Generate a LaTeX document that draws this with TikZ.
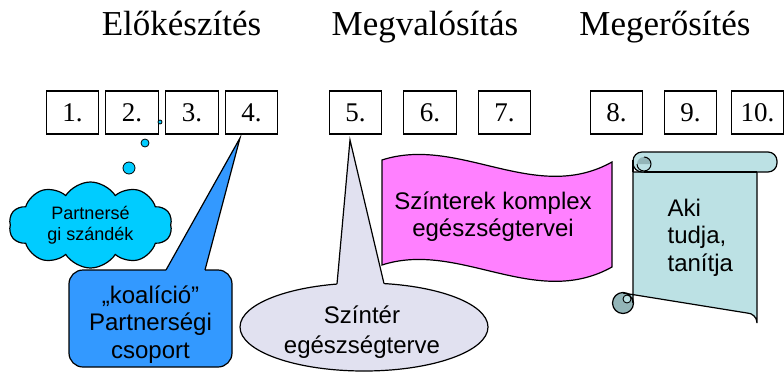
\documentclass[tikz,border=0pt]{standalone}
\usepackage{fontspec}
\setmainfont{Liberation Serif}
\newfontfamily\arialfont{Liberation Sans}
\usetikzlibrary{shapes.symbols,shapes.geometric}
\definecolor{cloudc}{HTML}{00CCFF}
\definecolor{bluec}{HTML}{3399FF}
\definecolor{ellc}{HTML}{E1E1F0}
\definecolor{wavec}{HTML}{FF80FF}
\definecolor{scrollc}{HTML}{BCE1E4}
\definecolor{scrolld}{HTML}{93B5B8}
\begin{document}
\begin{tikzpicture}[x=1pt,y=-1pt,line width=1.2pt,
  numbox/.style={draw,minimum width=52.5pt,minimum height=43pt,inner sep=0pt,font=\fontsize{27}{27}\selectfont},
  phase/.style={anchor=base,inner sep=0pt,font=\fontsize{35}{35}\selectfont},
  sanstext/.style={align=center,inner sep=0pt,font=\arialfont\fontsize{24}{27.5}\selectfont},
  bubble/.style={circle,draw,fill=cloudc,line width=0.8pt,inner sep=0pt}]
\useasboundingbox (0,0) rectangle (784,372);

% phase titles
\node[phase] (p1) at (181.5,35) {Előkészítés};
\node[phase] (p2) at (425,35) {Megvalósítás};
\node[phase] (p3) at (665,35) {Megerősítés};

% numbered boxes
\node[numbox] (b1) at (72.5,112.5) {1.};
\node[numbox] (b2) at (132,112.5) {2.};
\node[numbox] (b3) at (192,112.5) {3.};
\node[numbox] (b4) at (251.5,112.5) {4.};
\node[numbox] (b5) at (355.5,112.5) {5.};
\node[numbox] (b6) at (430,112.5) {6.};
\node[numbox] (b7) at (504.5,112.5) {7.};
\node[numbox] (b8) at (616.5,112.5) {8.};
\node[numbox] (b9) at (690.5,112.5) {9.};
\node[numbox] (b10) at (757.5,112.5) {10.};

% thought cloud
\node[bubble,minimum size=4pt] (t1) at (160,122) {};
\node[bubble,minimum size=8pt] (t2) at (145,143) {};
\node[bubble,minimum size=12pt] (t3) at (129,168) {};
\node[cloud,draw,fill=cloudc,cloud puffs=10,cloud puff arc=115,cloud ignores aspect,
      minimum width=163pt,minimum height=86pt,inner sep=0pt,align=center,
      font=\arialfont\fontsize{18}{21}\selectfont] (cloud) at (90.5,225) {Partnersé\\gi szándék};

% blue callout to box 4
\coordinate (tip4) at (240,138);
\filldraw[fill=bluec,rounded corners=14pt] (69,270) rectangle (232,367);
\fill[bluec] (166.5,272.5) -- (166,270) -- (tip4) -- (205,270) -- (204.5,272.5) -- cycle;
\draw[line join=miter] (166,270) -- (tip4) -- (205,270);
\node[sanstext] (koal) at (150.5,324.5) {„koalíció”\\Partnerségi\\csoport};

% ellipse callout to box 5
\coordinate (tip5) at (350,140);
\node[ellipse,draw,fill=ellc,minimum width=248pt,minimum height=88pt,inner sep=0pt] (ell) at (364,327) {};
\fill[ellc] (337.5,289) -- (337,284) -- (tip5) -- (384,283.6) -- (383.5,289) -- cycle;
\draw[line join=miter] (337,284) -- (tip5) -- (384,283.6);
\node[sanstext,font=\arialfont\fontsize{24}{30}\selectfont] (ellt) at (362,332) {Színtér\\egészségterve};

% wave banner
\filldraw[fill=wavec] (382,160) .. controls (459,135) and (535,205) .. (612,162)
   -- (612,267) .. controls (535,310) and (459,240) .. (382,265) -- cycle;
\node[sanstext] (wavet) at (493,216.5) {Színterek komplex\\egészségtervei};

% scroll
\filldraw[fill=scrolld] (623,303) circle (10.5pt);
\filldraw[fill=scrollc] (633,165) -- (633,303) arc[start angle=0,end angle=90,radius=10pt]
   -- (747,313) arc[start angle=90,end angle=0,radius=10pt] -- (757,172) -- (633,172) -- cycle;
\filldraw[fill=scrollc,line width=0.9pt] (627,299) circle (4pt);
\filldraw[fill=scrollc,rounded corners=9pt] (633,152) -- (777,152) -- (777,172) -- (633,172) -- cycle;
\fill[scrolld] (651,164) arc[start angle=0,end angle=180,radius=7pt] -- cycle;
\draw[line width=1pt] (637,164) arc[start angle=180,end angle=450,radius=7pt];
\draw (644,172) -- (757,172);
\draw (633,160) -- (633,172);
\node[anchor=west,align=left,inner sep=0pt,font=\arialfont\fontsize{24}{27.5}\selectfont] (akit) at (667,237.5) {Aki\\tudja,\\tanítja};
\end{tikzpicture}
\end{document}
